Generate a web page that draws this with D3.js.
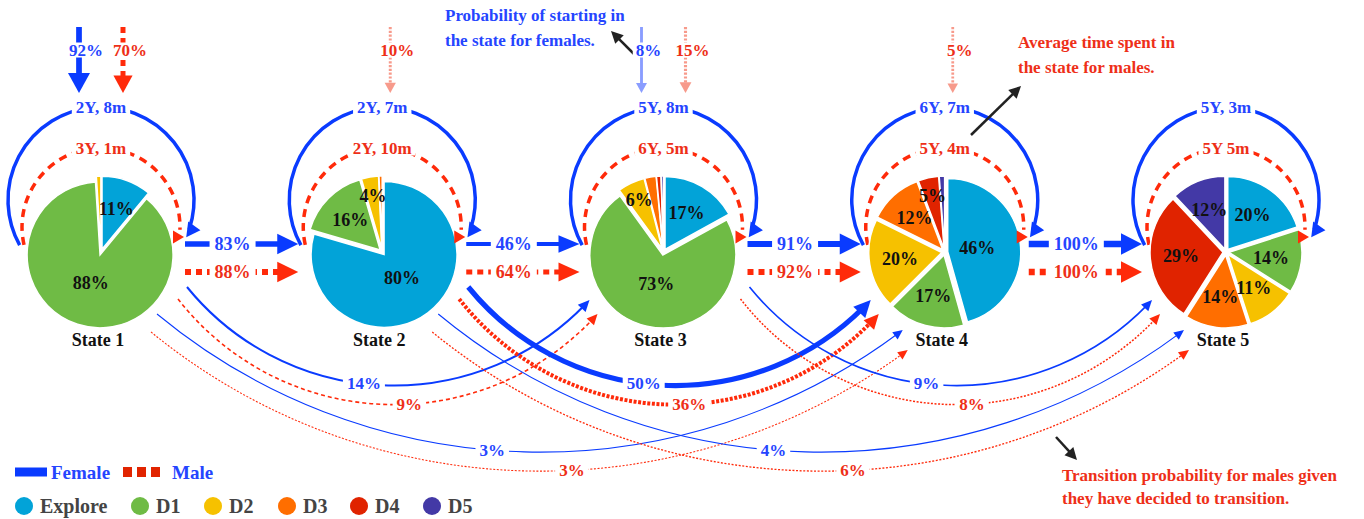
<!DOCTYPE html>
<html>
<head>
<meta charset="utf-8">
<script src="https://cdn.jsdelivr.net/npm/d3@7"></script>
<style>
  body { margin: 0; background: #fff; }
  svg text { font-family: "Liberation Serif", "Times New Roman", serif; font-weight: bold; }
</style>
</head>
<body>
<svg id="chart" width="1364" height="519"></svg>
<script>
// states and pie categories
const states = ['State 1', 'State 2', 'State 3', 'State 4', 'State 5']
const categories = ['Explore', 'D1', 'D2', 'D3', 'D4', 'D5']
const catColors = ['#02a3d8', '#6fbb45', '#f6c100', '#ff6e00', '#e02300', '#4339a6']

// share of each category inside a state (%)
const pieValues = [
  [11, 88, 1, 0, 0, 0],
  [79.5, 16, 3.8, 0.7, 0, 0],
  [17, 73, 6, 2.5, 1, 0.5],
  [46, 17, 20, 12, 4.6, 1.2],
  [20, 14, 11, 14, 29, 12]
]

// probability of starting in a state
const startFemale = [92, 0, 8, 0, 0]
const startMale = [70, 10, 15, 5, 0]

// average time spent in a state
const stayFemale = ['2Y, 8m', '2Y, 7m', '5Y, 8m', '6Y, 7m', '5Y, 3m']
const stayMale = ['3Y, 1m', '2Y, 10m', '6Y, 5m', '5Y, 4m', '5Y 5m']

// transition to the next state
const nextFemale = [83, 46, 91, 100]
const nextMale = [88, 64, 92, 100]

// transitions that skip states
const skipFrom = ['State 1', 'State 1', 'State 2', 'State 2', 'State 3']
const skipTo = ['State 3', 'State 4', 'State 4', 'State 5', 'State 5']
const skipFemale = [14, 3, 50, 4, 9]
const skipMale = [9, 3, 36, 6, 8]

const blue = '#0a3bff', red = '#ff2a0a'
const blueText = '#2545ff', redText = '#ee2f18'
const lightBlue = '#8a9dff', lightRed = '#f79a8b'

const svg = d3.select('#chart')
const x = d3.scalePoint().domain(states).range([101, 1226])
const cy = 252, R = 73

const gLines = svg.append('g')
const gPies = svg.append('g')
const gHeads = svg.append('g')
const gLabels = svg.append('g')

function label(x0, y0, txt, color, size, pad) {
  let g = gLabels.append('g')
  let t = g.append('text')
    .attr('x', x0).attr('y', y0)
    .attr('text-anchor', 'middle')
    .attr('dominant-baseline', 'central')
    .attr('fill', color)
    .style('font-size', size + 'px')
    .text(txt)
  if (pad != null) {
    let b = t.node().getBBox()
    g.insert('rect', 'text')
      .attr('x', b.x - pad).attr('y', b.y + 2)
      .attr('width', b.width + 2 * pad).attr('height', b.height - 4)
      .attr('fill', '#fff')
  }
  return t
}

function head(tx, ty, ux, uy, len, half, color) {
  let n = Math.hypot(ux, uy)
  ux /= n; uy /= n
  let bx = tx - ux * len, by = ty - uy * len
  let px = -uy, py = ux
  gHeads.append('path')
    .attr('d', `M${tx},${ty}L${bx + px * half},${by + py * half}L${bx - px * half},${by - py * half}Z`)
    .attr('fill', color)
}

// ---- long transitions under the pies
let skipW = d3.scaleLinear().domain([0, 50]).range([0.8, 5.2])

skipFrom.forEach((from, i) => {
  let to = skipTo[i]
  let hop = states.indexOf(to) - states.indexOf(from)
  ;[['f', skipFemale[i]], ['m', skipMale[i]]].forEach(([sex, p]) => {
    let so, eo
    if (hop === 2) {
      so = sex === 'f' ? [86, 35] : [77, 47]
      eo = sex === 'f' ? [-74, 48] : [-66, 62]
    } else {
      so = sex === 'f' ? [56, 62] : [50, 80]
      eo = sex === 'f' ? [-42, 78] : [-37, 98]
    }
    let sag = hop === 2 ? (sex === 'f' ? 92 : 98) : 130
    let x0 = x(from) + so[0], y0 = cy + so[1]
    let x1 = x(to) + eo[0], y1 = cy + eo[1]
    let L = Math.hypot(x1 - x0, y1 - y0)
    let rad = (L * L / 4 + sag * sag) / (2 * sag)
    let w = skipW(p)
    let col = sex === 'f' ? blue : red
    let path = gLines.append('path')
      .attr('d', `M${x0},${y0}A${rad},${rad} 0 0 0 ${x1},${y1}`)
      .attr('fill', 'none')
      .attr('stroke', col)
      .attr('stroke-width', w)
    if (sex === 'm') path.attr('stroke-dasharray', p > 20 ? '3,1.6' : (p > 8.5 ? '4,3' : '2,1.6'))
    let node = path.node()
    let len = node.getTotalLength()
    let hl = 8 + 1.7 * w, hw = 3.5 + 0.9 * w
    let a = node.getPointAtLength(len), b = node.getPointAtLength(len - 2)
    head(a.x, a.y, a.x - b.x, a.y - b.y, hl, hw, col)
    // trim under the head
    let cut = node.getPointAtLength(len - hl * 0.6)
    path.attr('d', `M${x0},${y0}A${rad},${rad} 0 0 0 ${cut.x},${cut.y}`)
    let lp = node.getPointAtLength(node.getTotalLength() * (sex === 'f' ? 0.46 : 0.56))
    label(lp.x, lp.y, p + '%', sex === 'f' ? blueText : redText, 17, 4)
  })
})

// ---- arrows to the next state
let nextW = d3.scaleLinear().domain([0, 100]).range([2, 6.5])
nextFemale.forEach((p, i) => {
  let x0 = x(states[i]) + 84, x1 = x(states[i + 1]) - 84
  let rows = [['f', p, 244], ['m', nextMale[i], 272]]
  rows.forEach(([sex, v, yy]) => {
    let w = nextW(v)
    let col = sex === 'f' ? blue : red
    let hl = 21, hw = 5 + w * 0.9
    let ln = gLines.append('line')
      .attr('x1', x0).attr('y1', yy).attr('x2', x1 - hl * 0.7).attr('y2', yy)
      .attr('stroke', col).attr('stroke-width', w)
    if (sex === 'm') ln.attr('stroke-dasharray', '6,5')
    head(x1, yy, 1, 0, hl, hw, col)
    label(x0 + (x1 - x0) * 0.42, yy, v + '%', sex === 'f' ? blueText : redText, 18, 5)
  })
})

// ---- self loops (time spent in state)
states.forEach((s, i) => {
  let cx = x(s)
  // female loop
  let rb = 93, cyb = 200
  let a0 = 151 * Math.PI / 180, a1 = 383.6 * Math.PI / 180
  let hl = 14
  let pb = d3.path()
  pb.arc(cx, cyb, rb, a0, a1 - hl * 0.6 / rb)
  gLines.append('path').attr('d', pb.toString())
    .attr('fill', 'none').attr('stroke', blue).attr('stroke-width', 3.5)
  let ex = cx + rb * Math.cos(a1), ey = cyb + rb * Math.sin(a1)
  head(ex, ey, -Math.sin(a1) - 0.25, Math.cos(a1), hl, 7.5, blue)
  label(cx, cyb - rb, stayFemale[i], blueText, 17, 4)

  // male loop
  let rr = 79, cyr = 227
  let m0 = 167 * Math.PI / 180, m1 = 362 * Math.PI / 180
  let pr = d3.path()
  pr.arc(cx, cyr, rr, m0, m1)
  gLines.append('path').attr('d', pr.toString())
    .attr('fill', 'none').attr('stroke', red).attr('stroke-width', 3.5)
    .attr('stroke-dasharray', '8,6')
  head(cx + 83, cyr + 10, 1, 0, 11, 6.5, red)
  label(cx, cyr - rr, stayMale[i], redText, 17, 4)
})

// ---- starting probabilities
let startW = d3.scaleLinear().domain([0, 100]).range([2.6, 6])
let startH = d3.scaleLinear().domain([0, 100]).range([9, 21])
states.forEach((s, i) => {
  let cx = x(s)
  let both = startFemale[i] > 0 && startMale[i] > 0
  ;[['f', startFemale[i]], ['m', startMale[i]]].forEach(([sex, p]) => {
    if (!p) return
    let xx = sex === 'f' ? cx - 22 : (both ? cx + 22 : cx + 8)
    let strong = p >= 50
    let col = sex === 'f' ? (strong ? blue : lightBlue) : (strong ? red : lightRed)
    let hl = startH(p), hw = startH(p) * 0.55
    let tipY = 93
    let ln = gLines.append('line')
      .attr('x1', xx).attr('y1', 27).attr('x2', xx).attr('y2', tipY - hl * 0.7)
      .attr('stroke', col).attr('stroke-width', startW(p))
    if (sex === 'm') ln.attr('stroke-dasharray', strong ? '6,5' : '2.2,1.6')
    head(xx, tipY, 0, 1, hl, hw, col)
    label(xx + 7, 50, p + '%', sex === 'f' ? blueText : redText, 17, 3)
  })
})

// ---- pies
let pie = d3.pie().sort(null).value(d => d)
let arc = d3.arc().innerRadius(0).outerRadius(R)
states.forEach((s, i) => {
  let cx = x(s)
  let g = gPies.append('g').attr('transform', `translate(${cx},${cy})`)
  let arcs = pie(pieValues[i]).map((d, j) => Object.assign(d, { cat: j })).filter(d => d.value > 0)
  arcs.forEach(d => {
    let mid = (d.startAngle + d.endAngle) / 2
    let off = 3
    g.append('path')
      .attr('d', arc(d))
      .attr('transform', `translate(${Math.sin(mid) * off},${-Math.cos(mid) * off})`)
      .attr('fill', catColors[d.cat])
      .attr('stroke', '#fff').attr('stroke-width', 1.5)
  })
  arcs.forEach(d => {
    if (d.value < 3.5) return
    let mid = (d.startAngle + d.endAngle) / 2
    let k = d.value >= 40 ? 0.45 : (d.value >= 8 ? 0.62 : 0.78)
    label(cx + Math.sin(mid) * R * k, cy - Math.cos(mid) * R * k, Math.round(d.value) + '%', '#111', 18)
  })
  label(cx - 3, 340, s, '#111', 18)
})

// ---- annotations
function note(x0, y0, lines, color, gap) {
  let t = gLabels.append('text').attr('fill', color).style('font-size', '17px')
  lines.forEach((l, k) => t.append('tspan').attr('x', x0).attr('y', y0 + k * gap).text(l))
}
function pointer(x0, y0, x1, y1) {
  let len = 12
  let dx = x1 - x0, dy = y1 - y0, n = Math.hypot(dx, dy)
  gLines.append('line').attr('x1', x0).attr('y1', y0)
    .attr('x2', x1 - dx / n * len * 0.6).attr('y2', y1 - dy / n * len * 0.6)
    .attr('stroke', '#222').attr('stroke-width', 2.5)
  head(x1, y1, dx, dy, len, 6, '#222')
}
note(445, 21, ['Probability of starting in', 'the state for females.'], blueText, 25)
pointer(634, 54, 611, 31)
note(1018, 48, ['Average time spent in', 'the state for males.'], redText, 25)
pointer(971, 135, 1021, 86)
note(1062, 481, ['Transition probability for males given', 'they have decided to transition.'], redText, 23)
pointer(1056, 437, 1077, 460)

// ---- legend
let lg = svg.append('g')
lg.append('line').attr('x1', 15).attr('y1', 472).attr('x2', 47).attr('y2', 472)
  .attr('stroke', blue).attr('stroke-width', 9)
lg.append('text').attr('x', 51).attr('y', 479).attr('fill', blueText).style('font-size', '19px').text('Female')
lg.append('line').attr('x1', 123).attr('y1', 472).attr('x2', 163).attr('y2', 472)
  .attr('stroke', '#e12400').attr('stroke-width', 10).attr('stroke-dasharray', '9,5')
lg.append('text').attr('x', 172).attr('y', 479).attr('fill', blueText).style('font-size', '19px').text('Male')

let legX = d3.scaleOrdinal().domain(categories).range([24, 140, 213, 287, 359, 432])
categories.forEach((c, j) => {
  lg.append('circle').attr('cx', legX(c)).attr('cy', 506).attr('r', 9).attr('fill', catColors[j])
  lg.append('text').attr('x', legX(c) + 16).attr('y', 513).attr('fill', '#444')
    .style('font-size', '20px').text(c)
})
</script>
</body>
</html>
